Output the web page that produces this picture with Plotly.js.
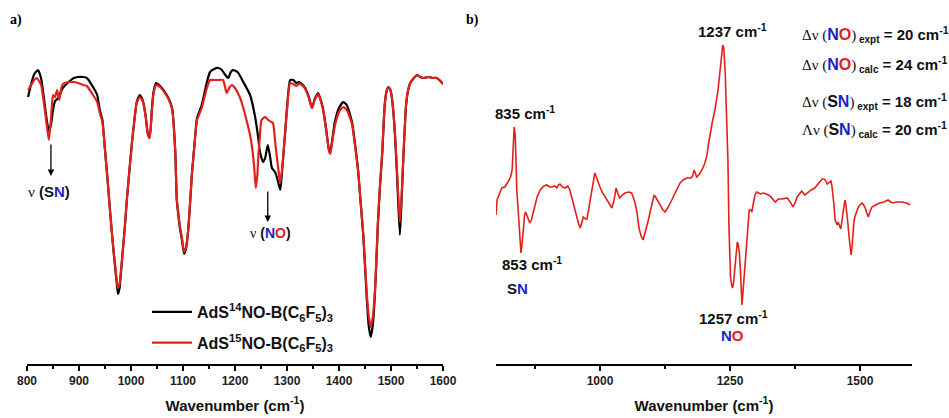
<!DOCTYPE html>
<html><head><meta charset="utf-8">
<script src="https://cdn.plot.ly/plotly-3.0.1.min.js"></script>
<style>html,body{margin:0;padding:0;background:#fff}#chart{width:949px;height:418px}</style>
</head><body><div id="chart"></div>
<script>
// Panel a: IR spectra (arbitrary transmittance units)
const wn14 = [802,808,814,821,827,833,838,842,846,850,854,860,869,880,890,898,908,915,927,935,940,945,950,955,960,965,969,973,975,978,983,988,992,997,1002,1007,1011,1017,1023,1028,1033,1036,1040,1043,1048,1056,1065,1072,1079,1085,1088,1091,1094,1098,1102,1106,1110,1114,1117,1122,1127,1136,1146,1152,1160,1168,1175,1180,1187,1192,1196,1205,1216,1229,1238,1244,1248,1254,1258,1263,1267,1271,1277,1281,1287,1290,1293,1297,1300,1306,1312,1318,1323,1329,1335,1342,1348,1354,1360,1365,1369,1375,1380,1383,1387,1392,1400,1408,1415,1425,1431,1437,1442,1447,1453,1457,1461,1465,1469,1472,1475,1479,1483,1488,1492,1495,1498,1501,1505,1508,1512,1517,1520,1524,1529,1533,1537,1544,1550,1556,1563,1572,1580,1588,1595,1600];
const t14 = [303,316,326,330,322,300,280,269,275,290,299,302,312,318,322,323,323,322,313,305,290,280,250,220,187,157,135,115,106,112,142,172,200,230,258,282,298,305,299,285,265,264,290,307,317,314,308,302,292,250,200,185,172,160,146,152,170,200,225,255,282,295,318,328,331,332,330,326,322,328,330,328,318,305,285,265,248,238,242,255,245,232,228,222,210,225,245,272,292,320,320,317,318,316,312,303,292,302,307,300,292,272,252,247,260,278,292,298,295,278,255,228,195,162,105,75,63,75,105,140,178,215,245,295,310,313,311,305,285,262,220,165,195,245,295,310,317,322,325,323,322,323,322,322,319,316];
const wn15 = [802,808,814,819,827,833,838,842,846,850,854,858,862,866,869,880,890,898,908,915,927,935,940,945,950,955,960,965,969,973,975,978,983,988,992,997,1002,1007,1011,1017,1023,1028,1033,1036,1040,1043,1048,1056,1065,1072,1079,1085,1088,1091,1094,1098,1102,1106,1110,1114,1117,1122,1127,1136,1146,1152,1160,1168,1177,1184,1190,1194,1200,1210,1216,1223,1229,1233,1237,1240,1243,1245,1248,1251,1258,1264,1270,1273,1277,1280,1284,1287,1290,1293,1297,1300,1306,1312,1318,1323,1329,1335,1342,1348,1354,1360,1365,1369,1375,1380,1383,1387,1392,1400,1408,1415,1425,1431,1437,1442,1447,1453,1457,1461,1465,1469,1472,1475,1479,1483,1488,1492,1495,1498,1501,1505,1508,1512,1517,1520,1524,1529,1533,1537,1544,1550,1556,1563,1572,1580,1588,1595,1600];
const t15 = [310,315,320,322,315,295,275,260,280,305,303,310,300,312,316,318,318,317,315,314,305,298,287,278,250,220,187,157,137,118,112,116,142,172,200,230,258,282,297,303,298,284,264,262,288,305,315,313,307,301,291,250,202,187,174,162,148,153,170,200,225,255,280,292,312,320,320,320,320,307,313,315,312,302,292,278,265,252,232,212,225,245,265,280,283,280,278,277,260,245,228,217,228,245,270,290,317,316,314,316,315,311,302,292,301,306,299,291,271,251,246,258,274,288,293,290,276,254,228,196,164,110,85,73,83,108,142,180,216,247,296,310,312,311,305,286,264,225,178,200,246,295,310,317,322,325,323,322,323,322,322,319,316];
// Panel b: difference spectrum (arbitrary units)
const wnDiff = [800,802,811,817,823,828,831,833,835,837,838,840,843,846,848,850,852,855,857,860,862,865,868,871,875,879,885,892,898,903,908,913,917,920,923,928,933,938,942,945,948,952,955,959,962,965,968,972,975,978,981,985,990,993,996,1000,1004,1009,1013,1018,1023,1027,1031,1034,1038,1043,1048,1055,1061,1067,1071,1075,1079,1083,1087,1090,1093,1096,1100,1104,1108,1112,1117,1121,1125,1130,1138,1146,1154,1160,1167,1175,1178,1181,1184,1186,1190,1196,1201,1205,1209,1212,1216,1221,1225,1227,1230,1232,1234,1236,1238,1239,1241,1242,1244,1246,1248,1250,1251,1253,1255,1257,1260,1262,1264,1266,1268,1270,1271,1273,1275,1277,1280,1283,1285,1287,1290,1292,1295,1298,1301,1304,1309,1314,1320,1327,1333,1337,1343,1350,1360,1366,1371,1375,1379,1384,1388,1394,1400,1406,1413,1420,1427,1431,1433,1437,1441,1444,1446,1448,1450,1452,1456,1458,1461,1463,1466,1468,1471,1473,1475,1477,1479,1481,1483,1485,1486,1488,1490,1494,1497,1500,1504,1507,1510,1513,1516,1519,1523,1530,1538,1546,1554,1559,1563,1570,1580,1590,1596];
const diff = [-15,0,12,13,18,23,30,50,73,65,40,10,-13,-40,-53,-45,-30,-15,-12,-17,-20,-23,-20,-13,-5,3,10,14,15,13,13,14,12,15,16,13,12,14,10,4,-2,-10,-17,-24,-28,-22,-17,-19,-19,-10,0,13,27,23,18,13,8,4,0,-4,-8,0,12,7,2,5,7,8,7,-2,-12,-28,-36,-40,-33,-27,-20,-13,-3,5,2,-2,-7,-10,-12,-8,0,9,17,20,22,22,24,30,25,23,25,30,36,43,57,67,78,90,102,110,125,137,148,155,152,145,125,107,75,40,-27,-60,-77,-85,-88,-82,-67,-50,-42,-45,-53,-70,-83,-105,-92,-77,-55,-37,-22,-10,-10,-12,-3,5,8,7,6,7,6,4,1,-2,1,1,2,-2,-7,-3,3,7,9,5,8,10,12,16,21,21,20,16,18,19,14,7,-5,-20,-25,-22,-26,-29,-18,-8,0,-5,-13,-25,-37,-48,-55,-45,-33,-24,-17,-11,-7,-5,-3,-5,-8,-13,-17,-12,-7,-5,-3,-2,0,-2,-3,-2,-2,-3,-5];
const xTicksA = [800,900,1000,1100,1200,1300,1400,1500,1600];
const xTicksB = [1000,1250,1500];
const legend14 = 'AdS<sup>14</sup>NO-B(C<sub>6</sub>F<sub>5</sub>)<sub>3</sub>';
const legend15 = 'AdS<sup>15</sup>NO-B(C<sub>6</sub>F<sub>5</sub>)<sub>3</sub>';

const BLUE = '#1f1fc4', RED = '#e3201c';
const N = '<span style="color:'+BLUE+'">N</span>';
const O = '<span style="color:'+RED+'">O</span>';
const SANS = 'Liberation Sans, Arial, sans-serif';
const SERIF = 'Liberation Serif, Times New Roman, serif';

const traces = [
  {x: wn14, y: t14, type:'scatter', mode:'lines', name: legend14, line:{color:'#000000', width:2.2, shape:'spline', smoothing:0.5}, xaxis:'x', yaxis:'y', legendgroup:'g1'},
  {x: wn15, y: t15, type:'scatter', mode:'lines', name: legend15, line:{color:RED, width:2.2, shape:'spline', smoothing:0.5}, xaxis:'x', yaxis:'y', legendgroup:'g2'},
  {x: wnDiff, y: diff, type:'scatter', mode:'lines', showlegend:false, line:{color:RED, width:1.6}, xaxis:'x2', yaxis:'y2'}
];

const tickFont = {family:SANS, size:12, color:'#222', weight:'bold'};
const titleFont = {family:SANS, size:15, color:'#111', weight:'bold'};
const axCommon = {
  showline:true, linecolor:'#000', linewidth:1.5, ticks:'outside', ticklen:5, tickwidth:1.3, tickcolor:'#000',
  showgrid:false, zeroline:false, tickfont:tickFont, fixedrange:true
};
const annFont = {family:SANS, size:15, color:'#111', weight:'bold'};

function blockLine(species, sub, val, y, lambda){
  const d = lambda ? 'Λν' : 'Δν';
  const serif = function(s){ return '<span style="font-family:'+SERIF+';font-weight:normal;font-size:15px">'+s+'</span>'; };
  return {xref:'paper', yref:'paper', x:800/949, y:y, xanchor:'left', yanchor:'middle', showarrow:false,
    text: serif(d+' (')+'<span style="font-size:16px">'+species+'</span>'+serif(')')+'<sub><span style="font-size:10px"> '+sub+'</span></sub><span style="font-size:15px"> = '+val+' cm<sup>-1</sup></span>',
    font: annFont};
}

const layout = {
  width:949, height:418, margin:{l:0, r:0, t:0, b:54}, paper_bgcolor:'#fff', plot_bgcolor:'#fff',
  xaxis: Object.assign({}, axCommon, {domain:[27/949, 443/949], range:[800,1600], tickvals:xTicksA,
    minor:{dtick:50, tick0:800, ticks:'outside', ticklen:3, tickwidth:1.2, tickcolor:'#000'},
    title:{text:'Wavenumber (cm<sup>-1</sup>)', font:titleFont, standoff:13}}),
  yaxis: {domain:[0,1], range:[36,400], visible:false, fixedrange:true},
  xaxis2: Object.assign({}, axCommon, {domain:[496/949, 912/949], range:[800,1600], tickvals:xTicksB, anchor:'y2',
    minor:{dtick:125, tick0:875, ticks:'outside', ticklen:3, tickwidth:1.2, tickcolor:'#000'},
    title:{text:'Wavenumber (cm<sup>-1</sup>)', font:titleFont, standoff:13}}),
  yaxis2: {domain:[0,1], range:[-164,200], visible:false, anchor:'x2', fixedrange:true},
  showlegend:true,
  legend:{x:147/949, y:(364-295)/364, xanchor:'left', yanchor:'top', bgcolor:'rgba(0,0,0,0)', itemwidth:40,
    font:{family:SANS, size:16, color:'#111', weight:'bold'}, tracegroupgap:7, traceorder:'grouped'},
  annotations: [
    {xref:'paper', yref:'paper', x:8/949, y:(364-20)/364, xanchor:'left', yanchor:'middle', showarrow:false, text:'a)',
      font:{family:SERIF, size:14, color:'#000', weight:'bold'}},
    {xref:'paper', yref:'paper', x:464/949, y:(364-20)/364, xanchor:'left', yanchor:'middle', showarrow:false, text:'b)',
      font:{family:SERIF, size:14, color:'#000', weight:'bold'}},
    // panel a arrows and labels
    {xref:'x', yref:'y', x:846, y:224, ax:0, ay:-33, text:'', showarrow:true, arrowhead:2, arrowsize:1, arrowwidth:1.3, arrowcolor:'#000'},
    {xref:'x', yref:'y', x:842, y:209, showarrow:false, text:'<span style="font-family:'+SERIF+';font-weight:normal">ν</span> (S'+N+')', font:{family:SANS, size:15, color:'#111', weight:'bold'}},
    {xref:'x', yref:'y', x:1263, y:178, ax:0, ay:-32, text:'', showarrow:true, arrowhead:2, arrowsize:1, arrowwidth:1.3, arrowcolor:'#000'},
    {xref:'x', yref:'y', x:1268, y:167, showarrow:false, text:'<span style="font-family:'+SERIF+';font-weight:normal">ν</span> ('+N+O+')', font:{family:SANS, size:14, color:'#111', weight:'bold'}},
    // panel b labels
    {xref:'x2', yref:'y2', x:856, y:88, showarrow:false, text:'835 cm<sup>-1</sup>', font:annFont},
    {xref:'x2', yref:'y2', x:1254, y:170, showarrow:false, text:'1237 cm<sup>-1</sup>', font:annFont},
    {xref:'x2', yref:'y2', x:869, y:-63, showarrow:false, text:'853 cm<sup>-1</sup>', font:annFont},
    {xref:'x2', yref:'y2', x:842, y:-88, showarrow:false, text:'S'+N, font:annFont},
    {xref:'x2', yref:'y2', x:1256, y:-117, showarrow:false, text:'1257 cm<sup>-1</sup>', font:annFont},
    {xref:'x2', yref:'y2', x:1254, y:-135, showarrow:false, text:N+O, font:annFont},
    blockLine(N+O, 'expt', '20', (364-34)/364, false),
    blockLine(N+O, 'calc', '24', (364-64)/364, false),
    blockLine('S'+N, 'expt', '18', (364-101)/364, false),
    blockLine('S'+N, 'calc', '20', (364-129)/364, true)
  ]
};

Plotly.newPlot('chart', traces, layout, {staticPlot:true, displayModeBar:false});
</script>
</body></html>
